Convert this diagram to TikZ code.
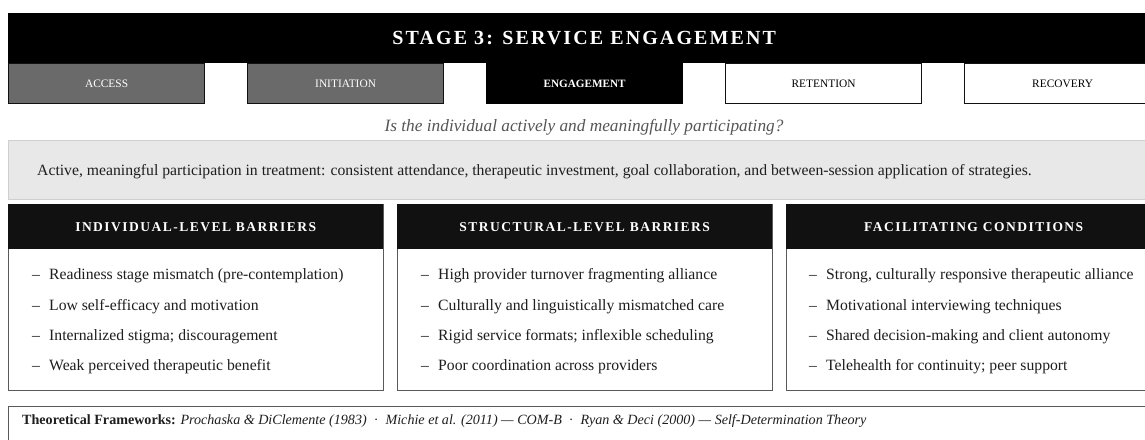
\documentclass[tikz,border=0pt]{standalone}
\usepackage{fontspec}
\setmainfont{Liberation Serif}
\definecolor{tabgray}{HTML}{6A6A6A}
\definecolor{boxgray}{HTML}{E8E8E8}
\definecolor{boxline}{HTML}{CFCFCF}
\definecolor{cardline}{HTML}{5A5A5A}
\definecolor{qgray}{HTML}{555555}
\definecolor{txt}{HTML}{1E1E1E}
\definecolor{hdr}{HTML}{111111}
\newcommand\ttlfont{\fontsize{20}{24}\selectfont\bfseries\addfontfeatures{LetterSpace=10.5}}
\newcommand\cardfont{\fontsize{13.5}{16}\selectfont\bfseries\addfontfeatures{LetterSpace=11}}
\tikzset{
  tabbox/.style={anchor=north west, minimum width=196pt, minimum height=40pt, inner sep=0pt,
    line width=1.2pt, font=\fontsize{11.4}{13}\selectfont},
  graytab/.style={tabbox, fill=tabgray, draw=hdr, text=white},
  activetab/.style={tabbox, fill=black, draw=black, text=white, font=\fontsize{11.2}{13}\selectfont\bfseries},
  whitetab/.style={tabbox, fill=white, draw=hdr, text=black},
  cardbody/.style={anchor=north west, minimum width=375pt, minimum height=186pt, inner sep=0pt,
    draw=cardline, line width=1pt, fill=white},
  cardhead/.style={anchor=north west, minimum width=375pt, minimum height=45pt, inner sep=0pt,
    fill=hdr, text=white, font=\cardfont},
  item/.style={anchor=base west, inner sep=0pt, text=txt, font=\fontsize{15.7}{18}\selectfont},
}
\newcommand\dsh{\makebox[17pt][l]{–}}
\begin{document}
\begin{tikzpicture}[x=1pt,y=-1pt]
\useasboundingbox (0,0) rectangle (1145,439);
\clip (0,0) rectangle (1145,439);
% header
\node[anchor=north west, minimum width=1152pt, minimum height=50pt, inner sep=0pt,
  fill=black, text=white, font=\ttlfont] (title) at (8,13) {STAGE 3: SERVICE ENGAGEMENT};
% tabs
\node[graytab] (access) at (8,63) {ACCESS};
\node[graytab] (initiation) at (247,63) {INITIATION};
\node[activetab] (engagement) at (486,63) {ENGAGEMENT};
\node[whitetab] (retention) at (725,63) {RETENTION};
\node[whitetab] (recovery) at (964,63) {RECOVERY};
% question
\node[anchor=base, inner sep=0pt, text=qgray, font=\fontsize{17.3}{20}\selectfont\itshape] (question) at (584,131)
  {Is the individual actively and meaningfully participating?};
% grey definition box
\node[anchor=north west, minimum width=1152pt, minimum height=59pt, inner sep=0pt,
  fill=boxgray, draw=boxline, line width=1pt] (defbox) at (8,140) {};
\node[anchor=base west, inner sep=0pt, text=txt, font=\fontsize{15.7}{18}\selectfont] (deftext) at (37,175)
  {Active, meaningful participation in treatment: consistent attendance, therapeutic investment, goal collaboration, and between-session application of strategies.};
% cards
\node[cardbody] (c1) at (8,204) {};
\node[cardhead] (h1) at (8,204) {INDIVIDUAL-LEVEL BARRIERS};
\node[cardbody] (c2) at (397,204) {};
\node[cardhead] (h2) at (397,204) {STRUCTURAL-LEVEL BARRIERS};
\node[cardbody] (c3) at (786,204) {};
\node[cardhead] (h3) at (786,204) {FACILITATING CONDITIONS};
% card 1 items
\node[item] (a1) at (32,279) {\dsh Readiness stage mismatch (pre-contemplation)};
\node[item] (a2) at (32,310) {\dsh Low self-efficacy and motivation};
\node[item] (a3) at (32,340) {\dsh Internalized stigma; discouragement};
\node[item] (a4) at (32,370) {\dsh Weak perceived therapeutic benefit};
% card 2 items
\node[item] (b1) at (421,279) {\dsh High provider turnover fragmenting alliance};
\node[item] (b2) at (421,310) {\dsh Culturally and linguistically mismatched care};
\node[item] (b3) at (421,340) {\dsh Rigid service formats; inflexible scheduling};
\node[item] (b4) at (421,370) {\dsh Poor coordination across providers};
% card 3 items
\node[item] (f1) at (809,279) {\dsh Strong, culturally responsive therapeutic alliance};
\node[item] (f2) at (809,310) {\dsh Motivational interviewing techniques};
\node[item] (f3) at (809,340) {\dsh Shared decision-making and client autonomy};
\node[item] (f4) at (809,370) {\dsh Telehealth for continuity; peer support};
% footer
\node[anchor=north west, minimum width=1152pt, minimum height=50pt, inner sep=0pt,
  fill=white, draw=cardline, line width=1pt] (footer) at (8,406) {};
\node[anchor=base west, inner sep=0pt, text=txt, font=\fontsize{14.1}{16}\selectfont] (fwtext) at (22,424)
  {\textbf{Theoretical Frameworks:} \textit{Prochaska \& DiClemente (1983)}\ \ ·\ \ \textit{Michie et al. (2011) — COM-B}\ \ ·\ \ \textit{Ryan \& Deci (2000) — Self-Determination Theory}};
\end{tikzpicture}
\end{document}
